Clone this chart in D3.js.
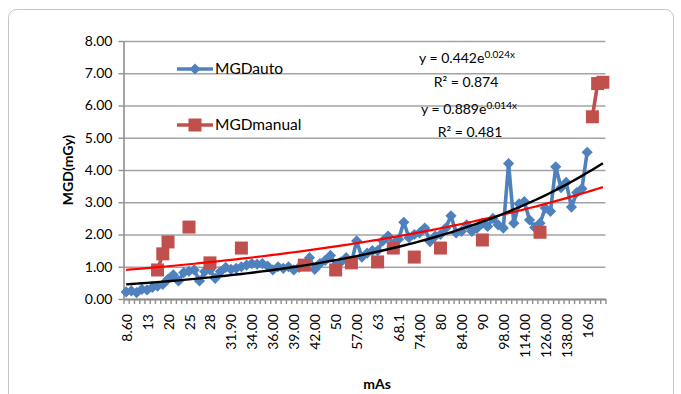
<!DOCTYPE html>
<html>
<head>
<meta charset="utf-8">
<script src="https://cdn.jsdelivr.net/npm/d3@7"></script>
<style>
  body { margin: 0; background: #fff; }
  svg { display: block; font-family: Lato, "Open Sans", sans-serif; }
</style>
</head>
<body>
<svg id="chart" width="681" height="394"></svg>
<script>
// mAs categories (only every 4th one is labelled on the axis)
const categories = [
  "8.60", "9", "10", "11", "13", "14", "16", "18",
  "20", "21", "22", "24", "25", "25", "26", "27",
  "28", "29", "30", "31", "31.90", "32.00", "32", "33.00",
  "34.00", "34.00", "35.00", "35.00", "36.00", "37.00", "37.00", "38.00",
  "39.00", "40.00", "40", "41.00", "42.00", "44.00", "45.00", "47.00",
  "50", "52.00", "54.00", "56", "57.00", "59.00", "61.00", "62.00",
  "63", "64.00", "66.00", "67", "68.1", "70.00", "71.00", "72",
  "74.00", "76.00", "77.00", "79.00", "80", "81.00", "82.00", "83.00",
  "84.00", "86.00", "87.00", "89.00", "90", "92.00", "94.00", "96.00",
  "98.00", "100.00", "104.00", "110.00", "114.00", "116.00", "120.00", "122",
  "126.00", "128.00", "130.00", "134.00", "138.00", "140.00", "148.00", "154.00",
  "160", "180", "200", "220"
];
const labelStep = 4;

// MGDauto (blue), null = no value
const mgdAuto = [
  0.22, 0.25, 0.20, 0.30, 0.28, 0.36, 0.40, 0.45,
  0.62, 0.75, 0.56, 0.82, 0.86, 0.90, 0.56, 0.85,
  0.90, 0.64, 0.85, 0.98, 0.92, 0.95, 1.00, 1.05,
  1.10, 1.08, 1.10, 1.02, 0.90, 1.00, 0.95, 1.00,
  0.90, 0.98, 1.05, 1.28, 0.92, 1.10, 1.20, 1.35,
  1.05, 1.15, 1.28, 1.12, 1.80, 1.30, 1.42, 1.50,
  1.50, 1.80, 1.95, 1.70, 1.85, 2.38, 1.90, 2.00,
  2.05, 2.20, 1.78, 1.95, 2.00, 2.20, 2.58, 2.05,
  2.10, 2.30, 2.10, 2.20, 2.35, 2.25, 2.50, 2.30,
  2.20, 4.20, 2.35, 2.95, 3.02, 2.45, 2.22, 2.35,
  2.82, 2.72, 4.10, 3.45, 3.62, 2.85, 3.30, 3.42,
  4.55, null, null, null
];

// MGDmanual (red), sparse
const mgdManual = [
  null, null, null, null, null, null, 0.90, 1.40,
  1.77, null, null, null, 2.23, null, null, null,
  1.12, null, null, null, null, null, 1.58, null,
  null, null, null, null, null, null, null, null,
  null, null, 1.05, null, null, null, null, null,
  0.90, null, null, 1.12, null, null, null, null,
  1.15, null, null, 1.58, null, null, null, 1.30,
  null, null, null, null, 1.58, null, null, null,
  null, null, null, null, 1.83, null, null, null,
  null, null, null, null, null, null, null, 2.07,
  null, null, null, null, null, null, null, null,
  null, 5.65, 6.68, 6.72
];

// exponential trendlines y = a * e^(b * x), x = 1..N
const trendAuto = { a: 0.442, b: 0.0245 };
const trendManual = { a: 0.889, b: 0.0148 };

const yTicks = [0, 1, 2, 3, 4, 5, 6, 7, 8];

const N = categories.length;
const plotLeft = 123.5, plotRight = 605.5, plotTop = 41, plotBottom = 299;
const blue = "#4f81bd", red = "#c0504d";

const svg = d3.select("#chart");

// chart area border
svg.append("rect")
  .attr("x", 8.5).attr("y", 9.5)
  .attr("width", 665).attr("height", 420)
  .attr("rx", 8)
  .attr("fill", "none")
  .attr("stroke", "#c4c4c4");

const xEdge = d3.scaleLinear().domain([0, N]).range([plotLeft, plotRight]);
const xc = i => xEdge(i + 0.5);
const y = d3.scaleLinear().domain([0, 8]).range([plotBottom, plotTop]);

// gridlines
svg.append("g")
  .attr("transform", `translate(${plotLeft},0)`)
  .call(d3.axisLeft(y).tickValues(yTicks).tickSize(-(plotRight - plotLeft)).tickFormat(""))
  .call(g => g.select(".domain").remove())
  .call(g => g.selectAll("line").attr("stroke", "#a3a3a3").attr("stroke-width", 1.6));

// y axis
svg.append("g")
  .attr("transform", `translate(${plotLeft},0)`)
  .call(d3.axisLeft(y).tickValues(yTicks).tickFormat(d3.format(".2f")).tickSize(5).tickSizeOuter(0).tickPadding(6))
  .call(g => g.select(".domain").attr("stroke", "#8f8f8f").attr("stroke-width", 1.6))
  .call(g => g.selectAll("line").attr("stroke", "#8f8f8f").attr("stroke-width", 1.4))
  .call(g => g.selectAll("text").attr("font-size", 14).attr("fill", "#000").attr("font-family", "Lato, sans-serif"));

// x axis: tick marks between categories
svg.append("g")
  .attr("transform", `translate(0,${plotBottom})`)
  .call(d3.axisBottom(xEdge).tickValues(d3.range(N + 1)).tickFormat("").tickSize(5).tickSizeOuter(0))
  .call(g => g.select(".domain").attr("stroke", "#8f8f8f").attr("stroke-width", 2))
  .call(g => g.selectAll("line").attr("stroke", "#8f8f8f").attr("stroke-width", 1.4));

// x axis labels (rotated)
const labelIdx = d3.range(0, N, labelStep);
svg.append("g")
  .attr("transform", `translate(0,${plotBottom})`)
  .call(d3.axisBottom(xEdge).tickValues(labelIdx.map(i => i + 0.5)).tickSize(0)
    .tickFormat(v => categories[Math.round(v - 0.5)]))
  .call(g => g.select(".domain").remove())
  .call(g => g.selectAll("text")
    .attr("transform", "rotate(-90)")
    .attr("text-anchor", "end")
    .attr("x", -15).attr("y", 0).attr("dy", "0.36em")
    .attr("font-size", 14).attr("fill", "#000").attr("font-family", "Lato, sans-serif"));

// axis titles
svg.append("text")
  .attr("transform", `translate(73,170) rotate(-90)`)
  .attr("text-anchor", "middle")
  .attr("font-size", 14).attr("font-weight", "bold")
  .text("MGD(mGy)");

svg.append("text")
  .attr("x", 377).attr("y", 389)
  .attr("text-anchor", "middle")
  .attr("font-size", 14).attr("font-weight", "bold")
  .text("mAs");

// series lines (gaps where a value is missing)
const line = d3.line()
  .defined(d => d.v != null)
  .x(d => xc(d.i))
  .y(d => y(d.v));

const autoPts = mgdAuto.map((v, i) => ({ i, v }));
const manualPts = mgdManual.map((v, i) => ({ i, v }));

svg.append("path")
  .datum(autoPts)
  .attr("d", line)
  .attr("fill", "none")
  .attr("stroke", blue)
  .attr("stroke-width", 3.6)
  .attr("stroke-linejoin", "round");

svg.append("g").selectAll("path")
  .data(autoPts.filter(d => d.v != null))
  .join("path")
  .attr("transform", d => `translate(${xc(d.i)},${y(d.v)})`)
  .attr("d", d3.symbol(d3.symbolDiamond2, 80))
  .attr("fill", blue);

svg.append("path")
  .datum(manualPts)
  .attr("d", line)
  .attr("fill", "none")
  .attr("stroke", red)
  .attr("stroke-width", 3.6)
  .attr("stroke-linejoin", "round");

svg.append("g").selectAll("rect")
  .data(manualPts.filter(d => d.v != null))
  .join("rect")
  .attr("x", d => xc(d.i) - 6.5)
  .attr("y", d => y(d.v) - 6.5)
  .attr("width", 13).attr("height", 13)
  .attr("fill", red);

// trendlines
const trendLine = d3.line().x(d => xc(d.i)).y(d => y(d.v));
const trendPts = t => d3.range(N).map(i => ({ i, v: t.a * Math.exp(t.b * (i + 1)) }));

svg.append("path")
  .datum(trendPts(trendManual))
  .attr("d", trendLine)
  .attr("fill", "none")
  .attr("stroke", "#ff0000")
  .attr("stroke-width", 2.2);

svg.append("path")
  .datum(trendPts(trendAuto))
  .attr("d", trendLine)
  .attr("fill", "none")
  .attr("stroke", "#000")
  .attr("stroke-width", 2.4);

// legend
const legend = svg.append("g");
const legendItems = [
  { name: "MGDauto", color: blue, shape: "diamond", y: 69 },
  { name: "MGDmanual", color: red, shape: "square", y: 125 }
];
legendItems.forEach(d => {
  legend.append("line")
    .attr("x1", 177).attr("x2", 213)
    .attr("y1", d.y).attr("y2", d.y)
    .attr("stroke", d.color).attr("stroke-width", 3.6);
  if (d.shape === "diamond") {
    legend.append("path")
      .attr("transform", `translate(195,${d.y})`)
      .attr("d", d3.symbol(d3.symbolDiamond2, 80))
      .attr("fill", d.color);
  } else {
    legend.append("rect")
      .attr("x", 188.5).attr("y", d.y - 6.5)
      .attr("width", 13).attr("height", 13)
      .attr("fill", d.color);
  }
  legend.append("text")
    .attr("x", 215).attr("y", d.y + 5)
    .attr("font-size", 15.5)
    .text(d.name);
});

// trendline equations
function equation(cx, yb, a, b) {
  const t = svg.append("text")
    .attr("x", cx).attr("y", yb)
    .attr("text-anchor", "middle")
    .attr("font-size", 14);
  t.append("tspan").text(`y = ${a}e`);
  t.append("tspan").attr("dy", -5).attr("font-size", 10).text(`${b}x`);
}
equation(467, 63, "0.442", "0.024");
equation(469, 114, "0.889", "0.014");

svg.append("text")
  .attr("x", 466).attr("y", 87)
  .attr("text-anchor", "middle").attr("font-size", 14)
  .text("R² = 0.874");

svg.append("text")
  .attr("x", 470).attr("y", 137)
  .attr("text-anchor", "middle").attr("font-size", 14)
  .text("R² = 0.481");
</script>
</body>
</html>
